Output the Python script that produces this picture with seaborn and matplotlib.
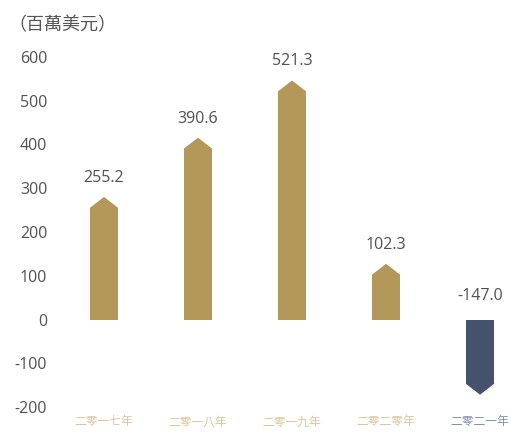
import matplotlib
matplotlib.use("Agg")
import matplotlib.pyplot as plt
import seaborn as sns
import pandas as pd
import numpy as np

years = ["二零一七年", "二零一八年", "二零一九年", "二零二零年", "二零二一年"]
values = [255.2, 390.6, 521.3, 102.3, -147.0]
bar_colors = ["#b3985a", "#b3985a", "#b3985a", "#b3985a", "#44526e"]
tick_colors = ["#d8c7a0", "#d8c7a0", "#d8c7a0", "#d8c7a0", "#7f90b3"]
yticks = [-200, -100, 0, 100, 200, 300, 400, 500, 600]
unit_label = "（百萬美元）"

sns.set_theme(style="white")
plt.rcParams["font.family"] = ["Open Sans", "Noto Sans CJK TC", "DejaVu Sans"]

df = pd.DataFrame({"year": years, "value": values})

W, H = 512, 432
fig = plt.figure(figsize=(W / 100, H / 100), dpi=100)
# axes placed so -200 sits at y=407px and 600 at y=57px
ax = fig.add_axes([57 / W, (H - 407) / H, (512 - 57) / W, (407 - 57) / H])

bar_w = 0.30
sns.barplot(data=df, x="year", y="value", hue="year", palette=bar_colors,
            width=bar_w, legend=False, ax=ax, saturation=1, linewidth=0,
            edgecolor="none")

# arrow heads on each bar, pointing in the direction of the value
head = 25
for i, v in enumerate(values):
    sign = 1 if v >= 0 else -1
    xs = [i - bar_w / 2, i - bar_w / 2, i, i + bar_w / 2, i + bar_w / 2]
    ys = [v - sign * 2, v, v + sign * head, v, v - sign * 2]
    ax.fill(xs, ys, color=bar_colors[i], lw=0)
    if v >= 0:
        ax.annotate(f"{v:.1f}", (i, v), xytext=(0, 30), textcoords="offset pixels",
                    ha="center", va="center", fontsize=11.5, color="#505050",
                    annotation_clip=False)
    else:
        ax.annotate(f"{v:.1f}", (i, 0), xytext=(0, 24), textcoords="offset pixels",
                    ha="center", va="center", fontsize=11.5, color="#505050",
                    annotation_clip=False)

ax.set_ylim(-200, 600)
ax.set_xlim(-0.5, 4.34)
ax.set_yticks(yticks)
ax.set_yticklabels([str(t) for t in yticks], fontsize=11.5, color="#505050")
ax.tick_params(axis="y", length=0, pad=7)
ax.tick_params(axis="x", length=0, pad=6)
ax.set_xticks(range(len(years)))
ax.set_xticklabels(years, fontsize=8.5)
for lbl, c in zip(ax.get_xticklabels(), tick_colors):
    lbl.set_color(c)
ax.set_xlabel("")
ax.set_ylabel("")
for s in ax.spines.values():
    s.set_visible(False)

fig.text(8 / W, 1 - 25 / H, unit_label, fontsize=13, color="#555555",
         ha="left", va="center", family=["Noto Sans CJK TC", "DejaVu Sans"])

fig.savefig("out.png", dpi=100)
